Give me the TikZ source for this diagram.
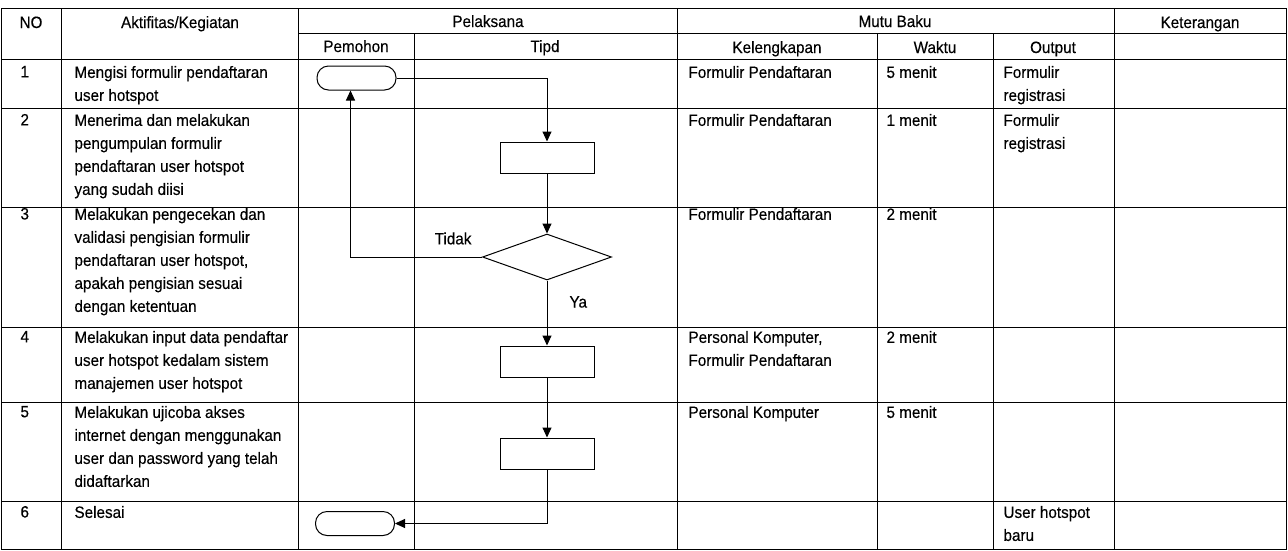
\documentclass[tikz,border=0pt]{standalone}
\usepackage{fontspec}
\setmainfont[FakeStretch=0.93,FakeBold=0.3]{Liberation Sans}
\usetikzlibrary{shapes.geometric,arrows.meta}

\tikzset{
  cell/.style={anchor=north west, align=left, inner sep=0pt},
  head/.style={anchor=base, inner sep=0pt},
  term/.style={draw, rounded corners=11.5pt, minimum width=79pt, minimum height=24pt, inner sep=0pt},
  proc/.style={draw, minimum width=94pt, minimum height=31pt, inner sep=0pt},
  decision/.style={draw, diamond, aspect=2.8, minimum width=129pt, minimum height=46pt, inner sep=0pt},
}

\begin{document}
\begin{tikzpicture}[x=1pt, y=-1pt, >={Triangle[length=10pt,width=9pt]},
    font=\fontsize{16.4}{23}\selectfont, line width=1pt]
    \useasboundingbox (0,0) rectangle (1288,550);

    % grid
    \draw (1,8) rectangle (1286,549);
    \draw (298,33) -- (1286,33);
    \foreach \y in {59,108,207,327,402,501} {
      \draw (1,\y) -- (1286,\y);
    }
    \foreach \x in {61,298,677,1114} {
      \draw (\x,8) -- (\x,549);
    }
    \foreach \x in {414,877,993} {
      \draw (\x,33) -- (\x,549);
    }

    \node[head] (hno) at (31,28) {NO};
    \node[head] (hakt) at (180,28) {Aktifitas/Kegiatan};
    \node[head] (hpel) at (488,27) {Pelaksana};
    \node[head] (hmutu) at (895,27) {Mutu Baku};
    \node[head] (hket) at (1200,28) {Keterangan};
    \node[head] (hpem) at (356,52) {Pemohon};
    \node[head] (htipd) at (545,52) {Tipd};
    \node[head] (hkel) at (777,53) {Kelengkapan};
    \node[head] (hwak) at (935,53) {Waktu};
    \node[head] (hout) at (1053,53) {Output};

    \foreach \n/\y in {1/65.5,2/113.5,3/207.5,4/330.5,5/405.5,6/505.5} {
      \node[cell] (no\n) at (20,\y) {\n};
    }

    \node[cell] (akt1) at (74,65.5) {Mengisi formulir pendaftaran\\user hotspot};
    \node[cell] (akt2) at (74,113.5) {Menerima dan melakukan\\pengumpulan formulir\\pendaftaran user hotspot\\yang sudah diisi};
    \node[cell] (akt3) at (74,207.5) {Melakukan pengecekan dan\\validasi pengisian formulir\\pendaftaran user hotspot,\\apakah pengisian sesuai\\dengan ketentuan};
    \node[cell] (akt4) at (74,330.5) {Melakukan input data pendaftar\\user hotspot kedalam sistem\\manajemen user hotspot};
    \node[cell] (akt5) at (74,405.5) {Melakukan ujicoba akses\\internet dengan menggunakan\\user dan password yang telah\\didaftarkan};
    \node[cell] (akt6) at (74,505.5) {Selesai};

    \node[cell] (kel1) at (688,65.5) {Formulir Pendaftaran};
    \node[cell] (kel2) at (688,113.5) {Formulir Pendaftaran};
    \node[cell] (kel3) at (688,207.5) {Formulir Pendaftaran};
    \node[cell] (kel4) at (688,330.5) {Personal Komputer,\\Formulir Pendaftaran};
    \node[cell] (kel5) at (688,405.5) {Personal Komputer};

    \node[cell] (wak1) at (886,65.5) {5 menit};
    \node[cell] (wak2) at (886,113.5) {1 menit};
    \node[cell] (wak3) at (886,207.5) {2 menit};
    \node[cell] (wak4) at (886,330.5) {2 menit};
    \node[cell] (wak5) at (886,405.5) {5 menit};

    \node[cell] (out1) at (1003,65.5) {Formulir\\registrasi};
    \node[cell] (out2) at (1003,113.5) {Formulir\\registrasi};
    \node[cell] (out6) at (1003,505.5) {User hotspot\\baru};

    % flow
    \node[term] (mulai) at (356.5,78) {};
    \node[proc] (terima) at (547,157.5) {};
    \node[decision] (valid) at (547,257) {};
    \node[proc] (input) at (547,361.5) {};
    \node[proc] (uji) at (547,453.5) {};
    \node[term] (selesai) at (355,523.5) {};

    \draw[->] (mulai.east) -| (terima.north);
    \draw[->] (terima) -- (valid);
    \draw[->] (valid.west) -| ([xshift=-6pt]mulai.south)
      node[pos=.11, above=12pt, inner sep=0pt] {Tidak};
    \draw[->] (valid) -- (input) node[pos=.33, right=22pt, inner sep=0pt] {Ya};
    \draw[->] (input) -- (uji);
    \draw[->] (uji.south) |- (selesai.east);
  \end{tikzpicture}
\end{document}
